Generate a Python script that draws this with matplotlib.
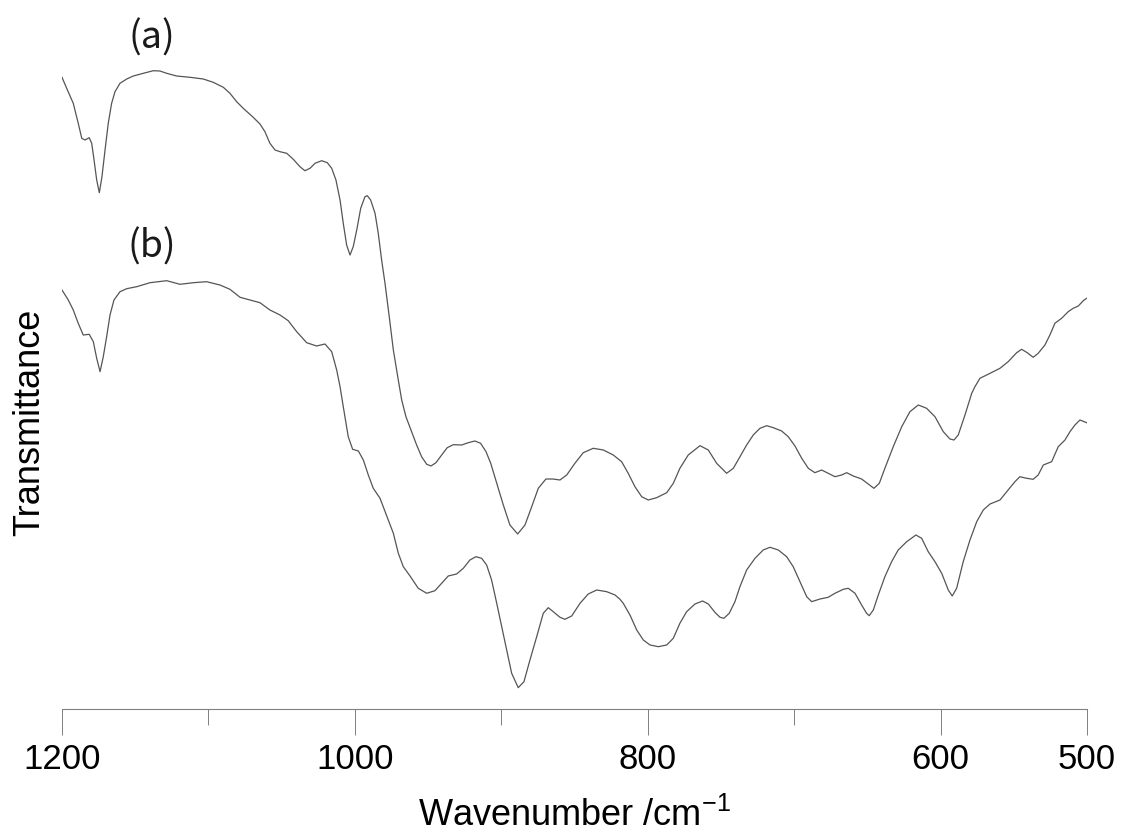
import matplotlib
matplotlib.use("Agg")
import matplotlib.pyplot as plt
from matplotlib.ticker import FixedLocator

plt.rcParams['font.family'] = ['Liberation Sans', 'DejaVu Sans']
plt.rcParams['mathtext.default'] = 'regular'

# spectrum (a): wavenumber / cm-1 and transmittance (arbitrary units)
wn_a = [1200.0, 1196.8, 1192.3, 1188.9, 1186.5, 1184.3, 1181.4, 1179.7, 1178.1, 1176.3,
        1174.5, 1172.7, 1170.6, 1168.4, 1166.1, 1163.8, 1160.4, 1155.8, 1151.3, 1144.5,
        1137.6, 1133.1, 1128.5, 1121.7, 1112.6, 1103.5, 1096.7, 1089.8, 1085.3, 1080.7,
        1076.2, 1069.4, 1064.8, 1061.4, 1058.0, 1054.5, 1051.1, 1046.5, 1042.0, 1037.5,
        1034.1, 1030.6, 1027.2, 1022.6, 1018.8, 1015.8, 1012.9, 1010.1, 1007.9, 1005.6,
        1003.3, 1001.1, 998.7, 996.0, 993.1, 991.5, 989.2, 986.2, 984.0, 981.7,
        979.4, 976.5, 973.7, 970.7, 968.0, 965.1, 961.2, 957.8, 954.4, 950.9,
        948.0, 944.6, 940.7, 936.9, 932.8, 927.0, 922.5, 918.0, 914.1, 910.4,
        907.2, 903.1, 898.6, 894.1, 888.8, 883.8, 879.2, 874.7, 869.5, 864.9,
        859.9, 855.3, 849.7, 844.0, 837.2, 830.3, 823.5, 817.8, 813.3, 808.7,
        804.1, 799.6, 793.9, 787.0, 782.5, 778.0, 772.3, 764.3, 758.6, 752.9,
        746.1, 741.5, 737.0, 732.4, 727.9, 723.3, 718.7, 714.2, 708.5, 704.0,
        699.4, 694.8, 690.3, 685.8, 681.2, 676.7, 672.1, 667.5, 664.1, 659.6,
        653.9, 649.4, 645.5, 641.8, 638.0, 632.3, 626.5, 620.9, 615.2, 609.5,
        603.8, 598.1, 593.6, 590.8, 587.9, 583.3, 578.7, 576.5, 573.1, 568.5,
        559.4, 553.8, 548.0, 544.6, 540.8, 536.7, 533.3, 528.7, 525.3, 521.9,
        517.3, 512.8, 509.4, 505.9, 502.5, 500.2]
tr_a = [631.7, 620.7, 605.7, 585.7, 570.7, 569.0, 571.3, 565.7, 549.0, 529.0,
        516.3, 532.3, 559.0, 585.7, 605.7, 617.3, 625.7, 630.0, 633.0, 635.7,
        638.3, 638.0, 635.7, 633.0, 631.7, 630.0, 626.7, 621.7, 615.7, 607.3,
        600.7, 591.7, 585.0, 577.3, 565.7, 559.0, 557.3, 555.7, 549.7, 542.3,
        538.3, 540.7, 545.7, 548.3, 546.3, 540.7, 529.0, 509.0, 485.7, 464.0,
        454.0, 462.3, 479.0, 500.7, 512.3, 513.3, 509.0, 495.7, 475.7, 449.0,
        425.7, 392.3, 359.0, 332.3, 309.0, 292.3, 277.3, 264.0, 252.3, 244.7,
        243.0, 246.3, 254.0, 261.3, 264.3, 264.0, 266.3, 268.0, 265.7, 257.3,
        245.7, 225.7, 204.0, 184.0, 175.0, 184.0, 202.3, 220.7, 230.0, 230.0,
        229.0, 234.0, 245.7, 256.3, 260.7, 259.0, 254.0, 247.3, 235.7, 222.3,
        212.3, 209.0, 211.3, 216.3, 225.7, 240.7, 254.0, 263.3, 259.0, 245.7,
        235.7, 240.7, 252.3, 264.0, 274.0, 280.7, 283.3, 281.3, 278.0, 272.3,
        263.0, 250.7, 240.7, 236.3, 239.0, 235.7, 232.3, 234.0, 236.3, 233.0,
        230.0, 225.0, 220.7, 225.7, 240.7, 262.3, 282.3, 297.3, 304.0, 300.7,
        292.3, 277.3, 270.0, 269.0, 274.0, 294.0, 315.7, 322.3, 330.7, 334.0,
        340.7, 347.3, 356.3, 359.7, 356.3, 351.7, 355.7, 364.0, 374.0, 385.7,
        390.7, 397.3, 400.7, 403.0, 408.3, 410.7]

# spectrum (b)
wn_b = [1200.0, 1195.7, 1192.3, 1188.9, 1185.5, 1181.4, 1178.6, 1176.3, 1174.0, 1171.8,
        1169.5, 1167.2, 1164.5, 1160.4, 1155.8, 1149.0, 1139.9, 1128.5, 1119.4, 1110.3,
        1101.2, 1092.1, 1085.3, 1078.4, 1071.6, 1064.8, 1058.0, 1051.1, 1045.5, 1039.7,
        1032.9, 1026.1, 1020.4, 1015.8, 1012.4, 1010.1, 1007.9, 1004.5, 1001.5, 997.6,
        994.2, 990.8, 987.4, 982.8, 977.2, 973.7, 970.3, 966.9, 962.3, 956.7,
        950.9, 945.3, 940.7, 936.2, 930.5, 925.9, 921.4, 917.3, 913.4, 910.0,
        906.6, 903.1, 899.7, 896.3, 892.9, 888.4, 884.5, 880.4, 875.8, 871.3,
        867.9, 864.5, 859.9, 856.5, 851.9, 846.2, 840.6, 834.8, 828.0, 822.3,
        818.9, 816.7, 812.1, 807.5, 803.0, 798.4, 792.8, 787.0, 782.5, 778.0,
        773.4, 767.7, 762.5, 758.6, 754.1, 750.6, 747.9, 744.3, 740.4, 737.0,
        732.4, 726.7, 721.1, 716.5, 710.8, 705.1, 700.6, 696.0, 691.4, 688.0,
        682.3, 676.7, 672.1, 666.4, 663.0, 658.4, 653.9, 650.5, 648.7, 645.9,
        642.5, 638.0, 633.4, 628.9, 623.1, 616.8, 612.9, 608.4, 603.8, 599.2,
        594.7, 592.0, 589.0, 584.5, 579.9, 575.3, 570.8, 566.2, 559.4, 554.8,
        549.2, 545.8, 541.2, 536.7, 533.3, 529.8, 524.1, 519.6, 515.0, 511.6,
        508.2, 504.8, 500.2]
tr_b = [419.0, 409.0, 399.0, 385.7, 374.0, 374.7, 367.3, 350.7, 337.3, 352.3,
        372.3, 394.0, 409.0, 417.3, 420.3, 422.3, 426.3, 428.3, 424.7, 426.3,
        427.3, 424.0, 419.7, 411.7, 409.0, 406.3, 399.0, 394.0, 388.3, 377.3,
        366.3, 363.0, 365.0, 357.3, 339.0, 322.3, 302.3, 272.3, 259.7, 258.0,
        249.0, 234.0, 220.7, 210.7, 189.0, 175.7, 155.7, 142.3, 133.0, 120.7,
        115.7, 118.3, 125.7, 133.0, 135.0, 140.7, 149.0, 152.3, 150.7, 144.0,
        129.0, 105.7, 82.3, 59.0, 35.7, 21.3, 27.3, 49.0, 72.3, 95.7,
        101.3, 97.3, 91.7, 89.7, 93.0, 105.7, 115.0, 119.0, 117.3, 114.0,
        109.7, 105.7, 94.0, 79.0, 69.0, 64.0, 62.3, 64.0, 70.7, 85.7,
        97.3, 105.0, 108.0, 105.0, 96.7, 91.7, 90.7, 95.7, 107.3, 122.3,
        139.0, 150.7, 159.0, 161.7, 159.0, 152.3, 142.3, 127.3, 112.3, 107.3,
        110.0, 111.7, 115.7, 119.7, 120.7, 115.7, 104.0, 95.7, 93.3, 99.0,
        114.0, 132.3, 147.3, 159.0, 167.3, 174.0, 170.7, 157.3, 147.3, 135.7,
        119.0, 113.0, 120.7, 147.3, 169.0, 187.3, 199.0, 205.0, 209.0, 217.3,
        227.3, 232.3, 230.7, 229.7, 234.0, 244.0, 247.3, 262.3, 269.0, 277.3,
        284.0, 289.0, 286.3]

labels = ['(a)', '(b)']
label_pos = [(1138.5, 671), (1138.5, 462)]

major_ticks = [1200, 1000, 800, 600, 500]
minor_ticks = [1100, 900, 700]

fig = plt.figure(figsize=(11.23, 8.34), dpi=100)
ax = fig.add_axes([0.0552, 0.1499, 0.9127, 0.8381])

line_color = '#555555'
ax.plot(wn_a, tr_a, color=line_color, lw=0.9)
ax.plot(wn_b, tr_b, color=line_color, lw=0.9)

for lab, (x, y) in zip(labels, label_pos):
    ax.text(x, y, lab, ha='center', va='center', fontsize=27,
            family=['Noto Sans CJK JP', 'DejaVu Sans'], color='#1a1a1a')

ax.set_xlim(1200, 500)
ax.set_ylim(0, 699)

for s in ['top', 'right', 'left']:
    ax.spines[s].set_visible(False)
ax.spines['bottom'].set_color('#808080')
ax.spines['bottom'].set_linewidth(0.8)

ax.xaxis.set_major_locator(FixedLocator(major_ticks))
ax.xaxis.set_minor_locator(FixedLocator(minor_ticks))
ax.tick_params(axis='x', which='major', direction='out', length=18.5, width=0.7,
               color='#808080', labelsize=25, pad=6)
ax.tick_params(axis='x', which='minor', direction='out', length=11.5, width=0.7,
               color='#808080')
ax.set_yticks([])

ax.set_xlabel('Wavenumber /cm$^{-1}$', fontsize=26, labelpad=16)
ax.set_ylabel('Transmittance', fontsize=26)
ax.yaxis.set_label_coords(-0.014, 0.41)

fig.savefig('out.png', dpi=100)
